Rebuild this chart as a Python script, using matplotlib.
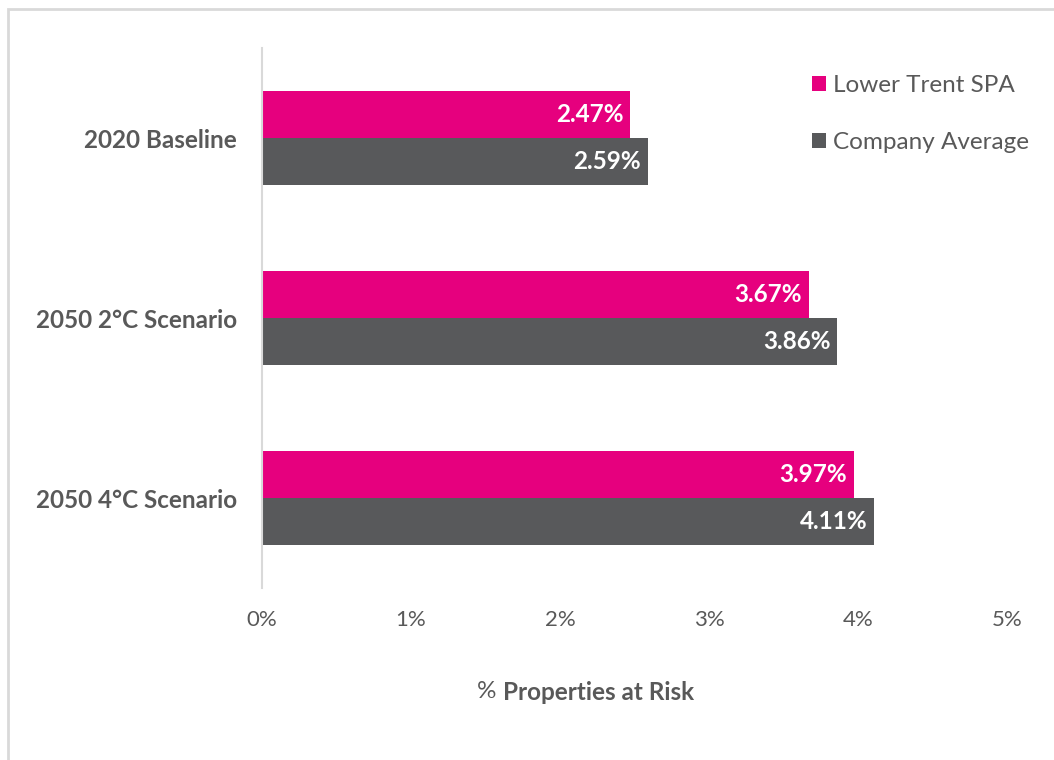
import matplotlib
matplotlib.use('Agg')
import matplotlib.pyplot as plt
from matplotlib.patches import Rectangle
from matplotlib.ticker import FuncFormatter
import numpy as np

# ── Données ─────────────────────────────────────────────
categories = ['2020 Baseline', '2050 2°C Scenario', '2050 4°C Scenario']
lower_trent = [2.47, 3.67, 3.97]
company_avg = [2.59, 3.86, 4.11]
series_names = ['Lower Trent SPA', 'Company Average']

PINK = '#E6007E'
GREY = '#58595B'
TXT = '#595959'

plt.rcParams['font.family'] = ['Lato', 'DejaVu Sans']

fig = plt.figure(figsize=(10.54, 7.6), dpi=100)
ax = fig.add_axes([262 / 1054, 1 - 588 / 760, 745 / 1054, 540 / 760])

# cadre gris autour de la figure (coupé à droite / en bas)
fig.patches.append(Rectangle((8 / 1054, -0.1), 1.2, 1 - 9 / 760 + 0.1,
                             transform=fig.transFigure, fill=False,
                             edgecolor='#D9D9D9', linewidth=2))

y = np.arange(len(categories))
h = 0.26
b1 = ax.barh(y - h / 2, lower_trent, height=h, color=PINK, label=series_names[0])
b2 = ax.barh(y + h / 2, company_avg, height=h, color=GREY, label=series_names[1])

for bars, vals in ((b1, lower_trent), (b2, company_avg)):
    for bar, v in zip(bars, vals):
        ax.text(v - 0.045, bar.get_y() + bar.get_height() / 2, f'{v:.2f}%',
                ha='right', va='center', color='white',
                fontsize=17.5, fontweight='bold')

ax.set_xlim(0, 5)
ax.set_ylim(2.5, -0.5)
ax.set_xticks(range(6))
ax.xaxis.set_major_formatter(FuncFormatter(lambda x, _: f'{x:.0f}%'))
ax.set_yticks(y)
ax.set_yticklabels(categories, fontweight='bold')
ax.tick_params(axis='x', length=0, pad=16, labelsize=16, labelcolor=TXT)
ax.tick_params(axis='y', length=0, pad=18, labelsize=17.5, labelcolor=TXT)

for s in ('top', 'right', 'bottom'):
    ax.spines[s].set_visible(False)
ax.spines['left'].set_color('#D9D9D9')
ax.spines['left'].set_linewidth(1.5)

ax.legend(loc='upper left', bbox_to_anchor=(812 / 1054, 1 - 75 / 760),
          bbox_transform=fig.transFigure, frameon=False, fontsize=17.5,
          handlelength=0.58, handleheight=0.58, handletextpad=0.3,
          labelspacing=1.5, borderpad=0, borderaxespad=0, labelcolor=TXT)

fig.text(477 / 1054, 1 - 692 / 760, '%', ha='left', va='center',
         fontsize=17.5, color=TXT)
fig.text(503 / 1054, 1 - 692 / 760, 'Properties at Risk', ha='left',
         va='center', fontsize=17.5, fontweight='bold', color=TXT)

plt.savefig('out.png', dpi=100)
plt.close()
